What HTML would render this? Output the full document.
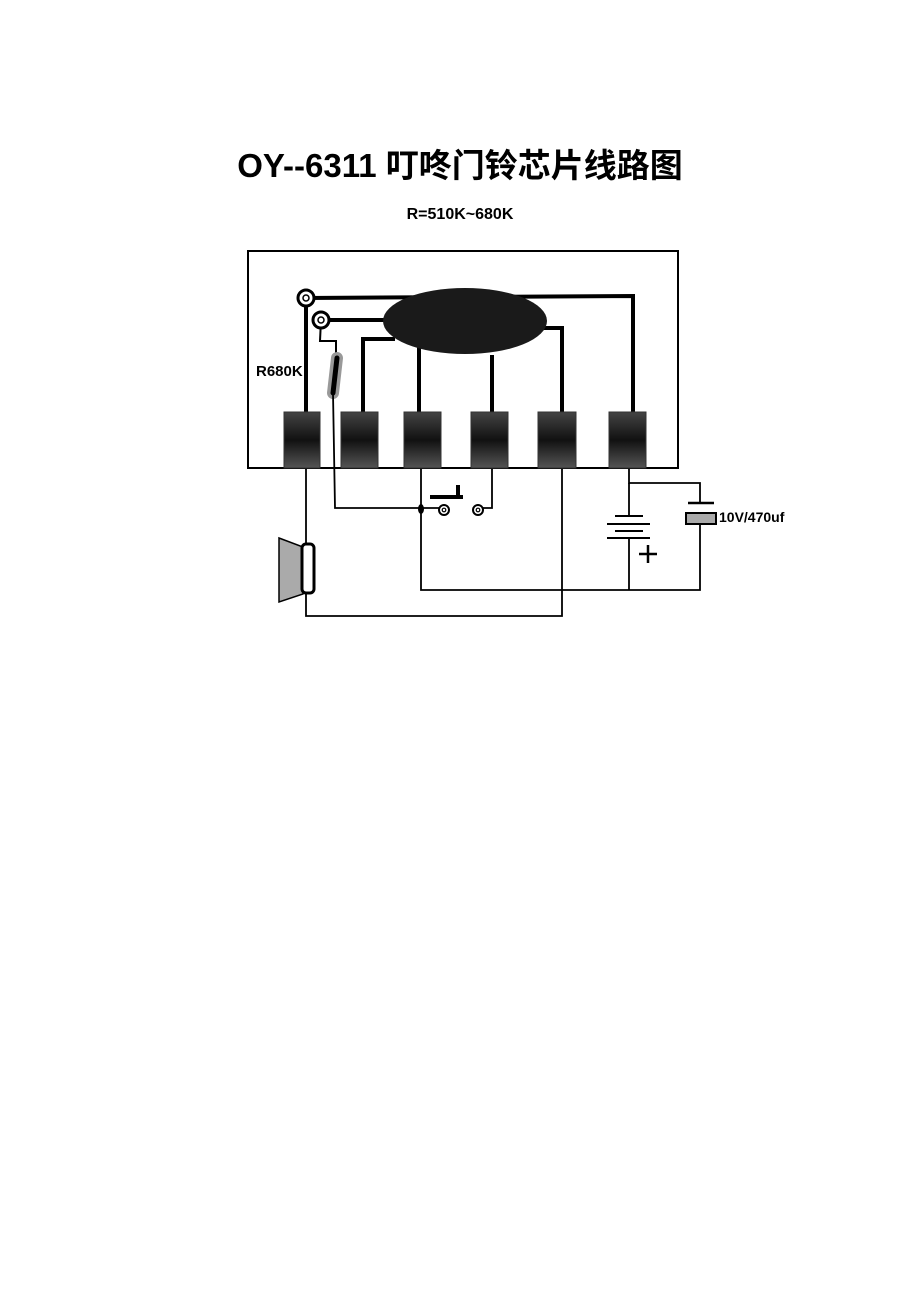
<!DOCTYPE html><html><head><meta charset="utf-8"><style>body{margin:0;background:#fff}svg{display:block}</style></head><body>
<svg width="920" height="1302" xmlns="http://www.w3.org/2000/svg" font-family="Liberation Sans, Noto Sans CJK SC, sans-serif">
<text x="460" y="177" text-anchor="middle" font-size="33" font-weight="bold">OY--6311 叮咚门铃芯片线路图</text>
<text x="460" y="219" text-anchor="middle" font-size="16" font-weight="bold">R=510K~680K</text>
<rect x="248" y="251" width="430" height="217" fill="none" stroke="#000" stroke-width="2"/>
<defs><linearGradient id="g" x1="0" y1="0" x2="0" y2="1"><stop offset="0" stop-color="#444"/><stop offset="0.5" stop-color="#111"/><stop offset="1" stop-color="#555"/></linearGradient></defs>
<g fill="none" stroke="#000" stroke-width="4">
<polyline points="306,298 633,296 633,414"/>
<line x1="306" y1="298" x2="306" y2="414"/>
<line x1="321" y1="320" x2="395" y2="320"/>
<polyline points="395,339 363,339 363,414"/>
<line x1="419" y1="340" x2="419" y2="414"/>
<line x1="492" y1="355" x2="492" y2="414"/>
<polyline points="540,328 562,328 562,414"/>
</g>
<polyline points="321,320 320,341 336,341 336,356" fill="none" stroke="#000" stroke-width="2"/>
<ellipse cx="465" cy="321" rx="82" ry="33" fill="#1a1a1a"/>
<circle cx="306" cy="298" r="8" fill="#fff" stroke="#000" stroke-width="3"/><circle cx="306" cy="298" r="3" fill="none" stroke="#000" stroke-width="1.5"/>
<circle cx="321" cy="320" r="8" fill="#fff" stroke="#000" stroke-width="3"/><circle cx="321" cy="320" r="3" fill="none" stroke="#000" stroke-width="1.5"/>
<line x1="337" y1="358" x2="333" y2="393" stroke="#999" stroke-width="12" stroke-linecap="round"/>
<line x1="337" y1="358" x2="333" y2="393" stroke="#000" stroke-width="5" stroke-linecap="round"/>
<text x="256" y="376" font-size="15" font-weight="bold">R680K</text>
<g fill="url(#g)" stroke="#333">
<rect x="284" y="412" width="36" height="56"/><rect x="341" y="412" width="37" height="56"/><rect x="404" y="412" width="37" height="56"/><rect x="471" y="412" width="37" height="56"/><rect x="538" y="412" width="38" height="56"/><rect x="609" y="412" width="37" height="56"/>
</g>
<g fill="none" stroke="#000" stroke-width="1.8">
<polyline points="333,393 335,508 421,508"/>
<polyline points="306,469 306,545"/>
<polyline points="306,592 306,616 562,616 562,469"/>
<polyline points="421,469 421,590 700,590 700,525"/>
<polyline points="492,469 492,508 482,508"/>
<line x1="421" y1="508" x2="440" y2="508"/>
<polyline points="629,469 629,483 700,483 700,503"/>
<line x1="629" y1="483" x2="629" y2="516"/>
<line x1="629" y1="538" x2="629" y2="590"/>
</g>
<ellipse cx="421" cy="509" rx="3" ry="5" fill="#000"/>
<circle cx="444" cy="510" r="5" fill="#fff" stroke="#000" stroke-width="2"/><circle cx="444" cy="510" r="1.8" fill="none" stroke="#000" stroke-width="1.2"/>
<circle cx="478" cy="510" r="5" fill="#fff" stroke="#000" stroke-width="2"/><circle cx="478" cy="510" r="1.8" fill="none" stroke="#000" stroke-width="1.2"/>
<line x1="430" y1="497" x2="463" y2="497" stroke="#000" stroke-width="4"/>
<line x1="458" y1="485" x2="458" y2="497" stroke="#000" stroke-width="4"/>
<g stroke="#000" stroke-width="2">
<line x1="615" y1="516" x2="643" y2="516"/><line x1="607" y1="524" x2="650" y2="524"/>
<line x1="615" y1="531" x2="643" y2="531"/><line x1="607" y1="538" x2="650" y2="538"/>
<line x1="688" y1="503" x2="714" y2="503" stroke-width="2.5"/>
<line x1="648" y1="545" x2="648" y2="563" stroke-width="2.5"/><line x1="639" y1="554" x2="657" y2="554" stroke-width="2.5"/>
</g>
<rect x="686" y="513" width="30" height="11" fill="#aaa" stroke="#000" stroke-width="2"/>
<text x="719" y="522" font-size="14" font-weight="bold">10V/470uf</text>
<polygon points="279,538 303,547 303,594 279,602" fill="#aaa" stroke="#000" stroke-width="1.5"/>
<rect x="302" y="544" width="12" height="49" rx="4" fill="#fff" stroke="#000" stroke-width="3"/>
</svg>
</body></html>
